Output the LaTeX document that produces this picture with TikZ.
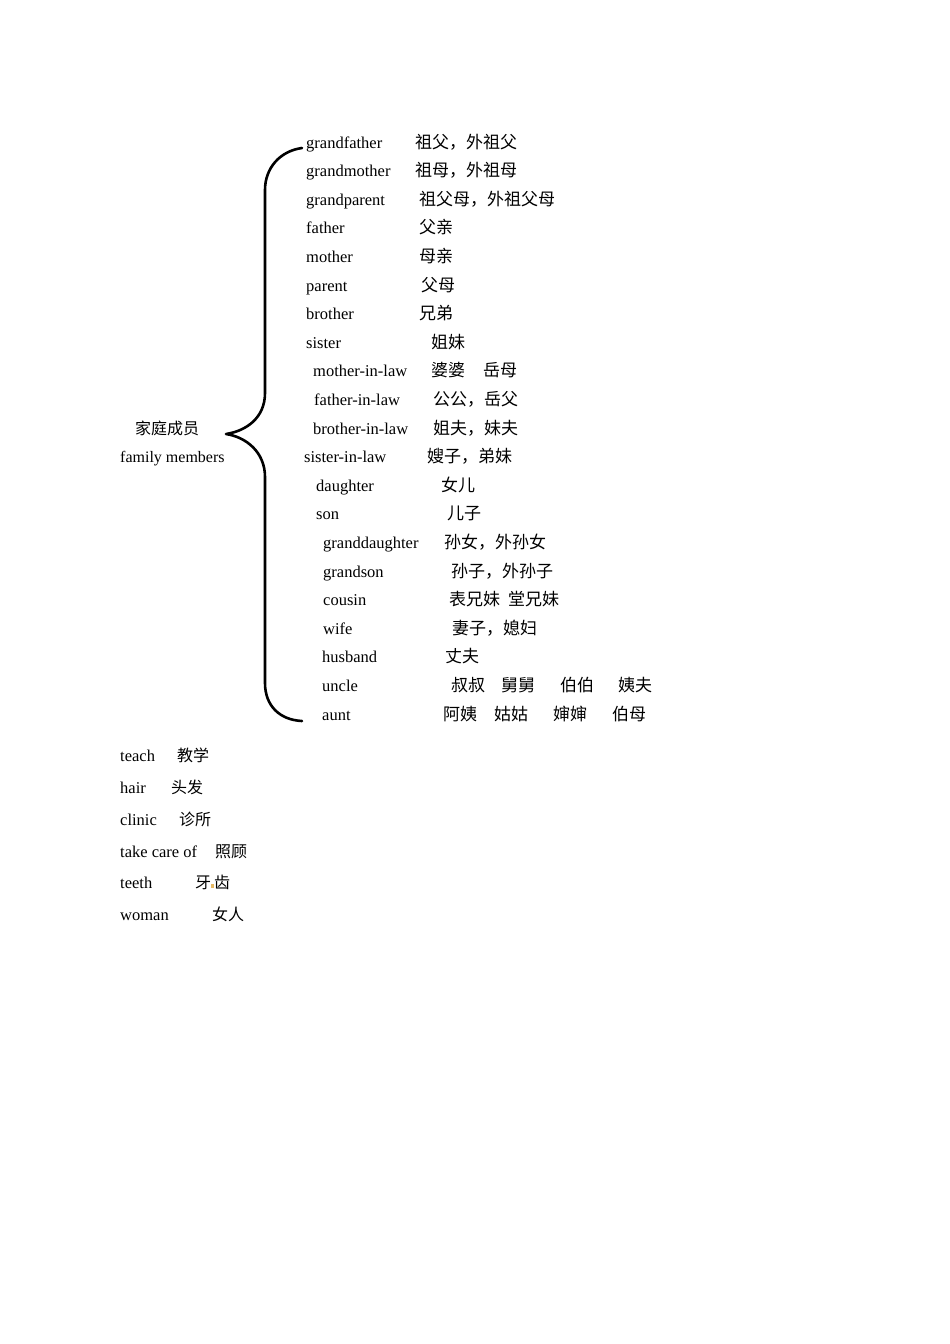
\documentclass[tikz,border=0pt]{standalone}
\usepackage{fontspec}
\setmainfont{Liberation Serif}
\newfontfamily\cjk{Noto Sans CJK SC}
\usepackage{tikz}
\usetikzlibrary{positioning}
\definecolor{dotorange}{RGB}{230, 185, 100}
\tikzstyle{word} = [anchor=base west, inner sep=0pt, font=\fontsize{16.5}{18}\selectfont]
\tikzstyle{meaning} = [anchor=base west, inner sep=0pt, font=\cjk\fontsize{17}{19}\selectfont]
\tikzstyle{lowword} = [anchor=base west, inner sep=0pt, font=\fontsize{16.5}{18}\selectfont]
\tikzstyle{lowmeaning} = [anchor=base west, inner sep=0pt, font=\cjk\fontsize{16}{18}\selectfont]
\tikzstyle{brace} = [line width=2.6pt, line cap=round, line join=round]

\begin{document}
\begin{tikzpicture}[x=1pt, y=-1pt]
\useasboundingbox (0,0) rectangle (950,1344);

% group label ============================
\node[anchor=base west, inner sep=0pt, font=\cjk\fontsize{16}{18}\selectfont] (fam) at (135,434) {家庭成员};
\node[anchor=base west, inner sep=0pt, font=\fontsize{16}{18}\selectfont] (famen) at (120,462.6) {family members};

% words ==================================
\node[word] (e1)  at (306,148)   {grandfather};
\node[word] (e2)  at (306,176.6) {grandmother};
\node[word] (e3)  at (306,205.2) {grandparent};
\node[word] (e4)  at (306,233.8) {father};
\node[word] (e5)  at (306,262.4) {mother};
\node[word] (e6)  at (306,291)   {parent};
\node[word] (e7)  at (306,319.6) {brother};
\node[word] (e8)  at (306,348.2) {sister};
\node[word] (e9)  at (313,376.8) {mother-in-law};
\node[word] (e10) at (314,405.4) {father-in-law};
\node[word] (e11) at (313,434)   {brother-in-law};
\node[word] (e12) at (304,462.6) {sister-in-law};
\node[word] (e13) at (316,491.2) {daughter};
\node[word] (e14) at (316,519.8) {son};
\node[word] (e15) at (323,548.4) {granddaughter};
\node[word] (e16) at (323,577)   {grandson};
\node[word] (e17) at (323,605.6) {cousin};
\node[word] (e18) at (323,634.2) {wife};
\node[word] (e19) at (322,662.8) {husband};
\node[word] (e20) at (322,691.4) {uncle};
\node[word] (e21) at (322,720)   {aunt};

% meanings ===============================
\node[meaning] (c1)  at (415,148)   {祖父，外祖父};
\node[meaning] (c2)  at (415,176.6) {祖母，外祖母};
\node[meaning] (c3)  at (419,205.2) {祖父母，外祖父母};
\node[meaning] (c4)  at (419,233.8) {父亲};
\node[meaning] (c5)  at (419,262.4) {母亲};
\node[meaning] (c6)  at (421,291)   {父母};
\node[meaning] (c7)  at (419,319.6) {兄弟};
\node[meaning] (c8)  at (431,348.2) {姐妹};
\node[meaning] (c9)  at (431,376.8) {婆婆\hspace{18pt}岳母};
\node[meaning] (c10) at (433,405.4) {公公，岳父};
\node[meaning] (c11) at (433,434)   {姐夫，妹夫};
\node[meaning] (c12) at (427,462.6) {嫂子，弟妹};
\node[meaning] (c13) at (441,491.2) {女儿};
\node[meaning] (c14) at (447,519.8) {儿子};
\node[meaning] (c15) at (444,548.4) {孙女，外孙女};
\node[meaning] (c16) at (451,577)   {孙子，外孙子};
\node[meaning] (c17) at (449,605.6) {表兄妹\hspace{8pt}堂兄妹};
\node[meaning] (c18) at (452,634.2) {妻子，媳妇};
\node[meaning] (c19) at (445,662.8) {丈夫};
\node[meaning] (c20) at (451,691.4) {叔叔};
\node[meaning] (c20b) at (501,691.4) {舅舅};
\node[meaning] (c20c) at (560,691.4) {伯伯};
\node[meaning] (c20d) at (618,691.4) {姨夫};
\node[meaning] (c21) at (443,720)   {阿姨};
\node[meaning] (c21b) at (494,720)  {姑姑};
\node[meaning] (c21c) at (553,720)  {婶婶};
\node[meaning] (c21d) at (612,720)  {伯母};

% brace from label to list ===============
\coordinate (btop) at (302,148);
\coordinate (btip) at (226,434);
\coordinate (bbot) at (302,721);
\draw[brace] (btop) .. controls (280,151) and (265,168) .. (265,190)
  -- (265,393) .. controls (265,418) and (246,431) .. (btip)
  .. controls (246,437) and (265,452) .. (265,477)
  -- (265,683) .. controls (265,706) and (280,720) .. (bbot);

% other words ============================
\node[lowword] (t1) at (120,761.5) {teach};
\node[lowword] (t2) at (120,793.3) {hair};
\node[lowword] (t3) at (120,825)   {clinic};
\node[lowword] (t4) at (120,857)   {take care of};
\node[lowword] (t5) at (120,888.7) {teeth};
\node[lowword] (t6) at (120,920.5) {woman};

\node[lowmeaning] (m1) at (177,761.5) {教学};
\node[lowmeaning] (m2) at (171,793.3) {头发};
\node[lowmeaning] (m3) at (179,825)   {诊所};
\node[lowmeaning] (m4) at (215,857)   {照顾};
\node[lowmeaning] (m5) at (195,888.7) {牙\hspace{3pt}齿};
\node[lowmeaning] (m6) at (212,920.5) {女人};
\fill[dotorange] (211,884) rectangle (213.5,887.5);

\end{tikzpicture}
\end{document}
